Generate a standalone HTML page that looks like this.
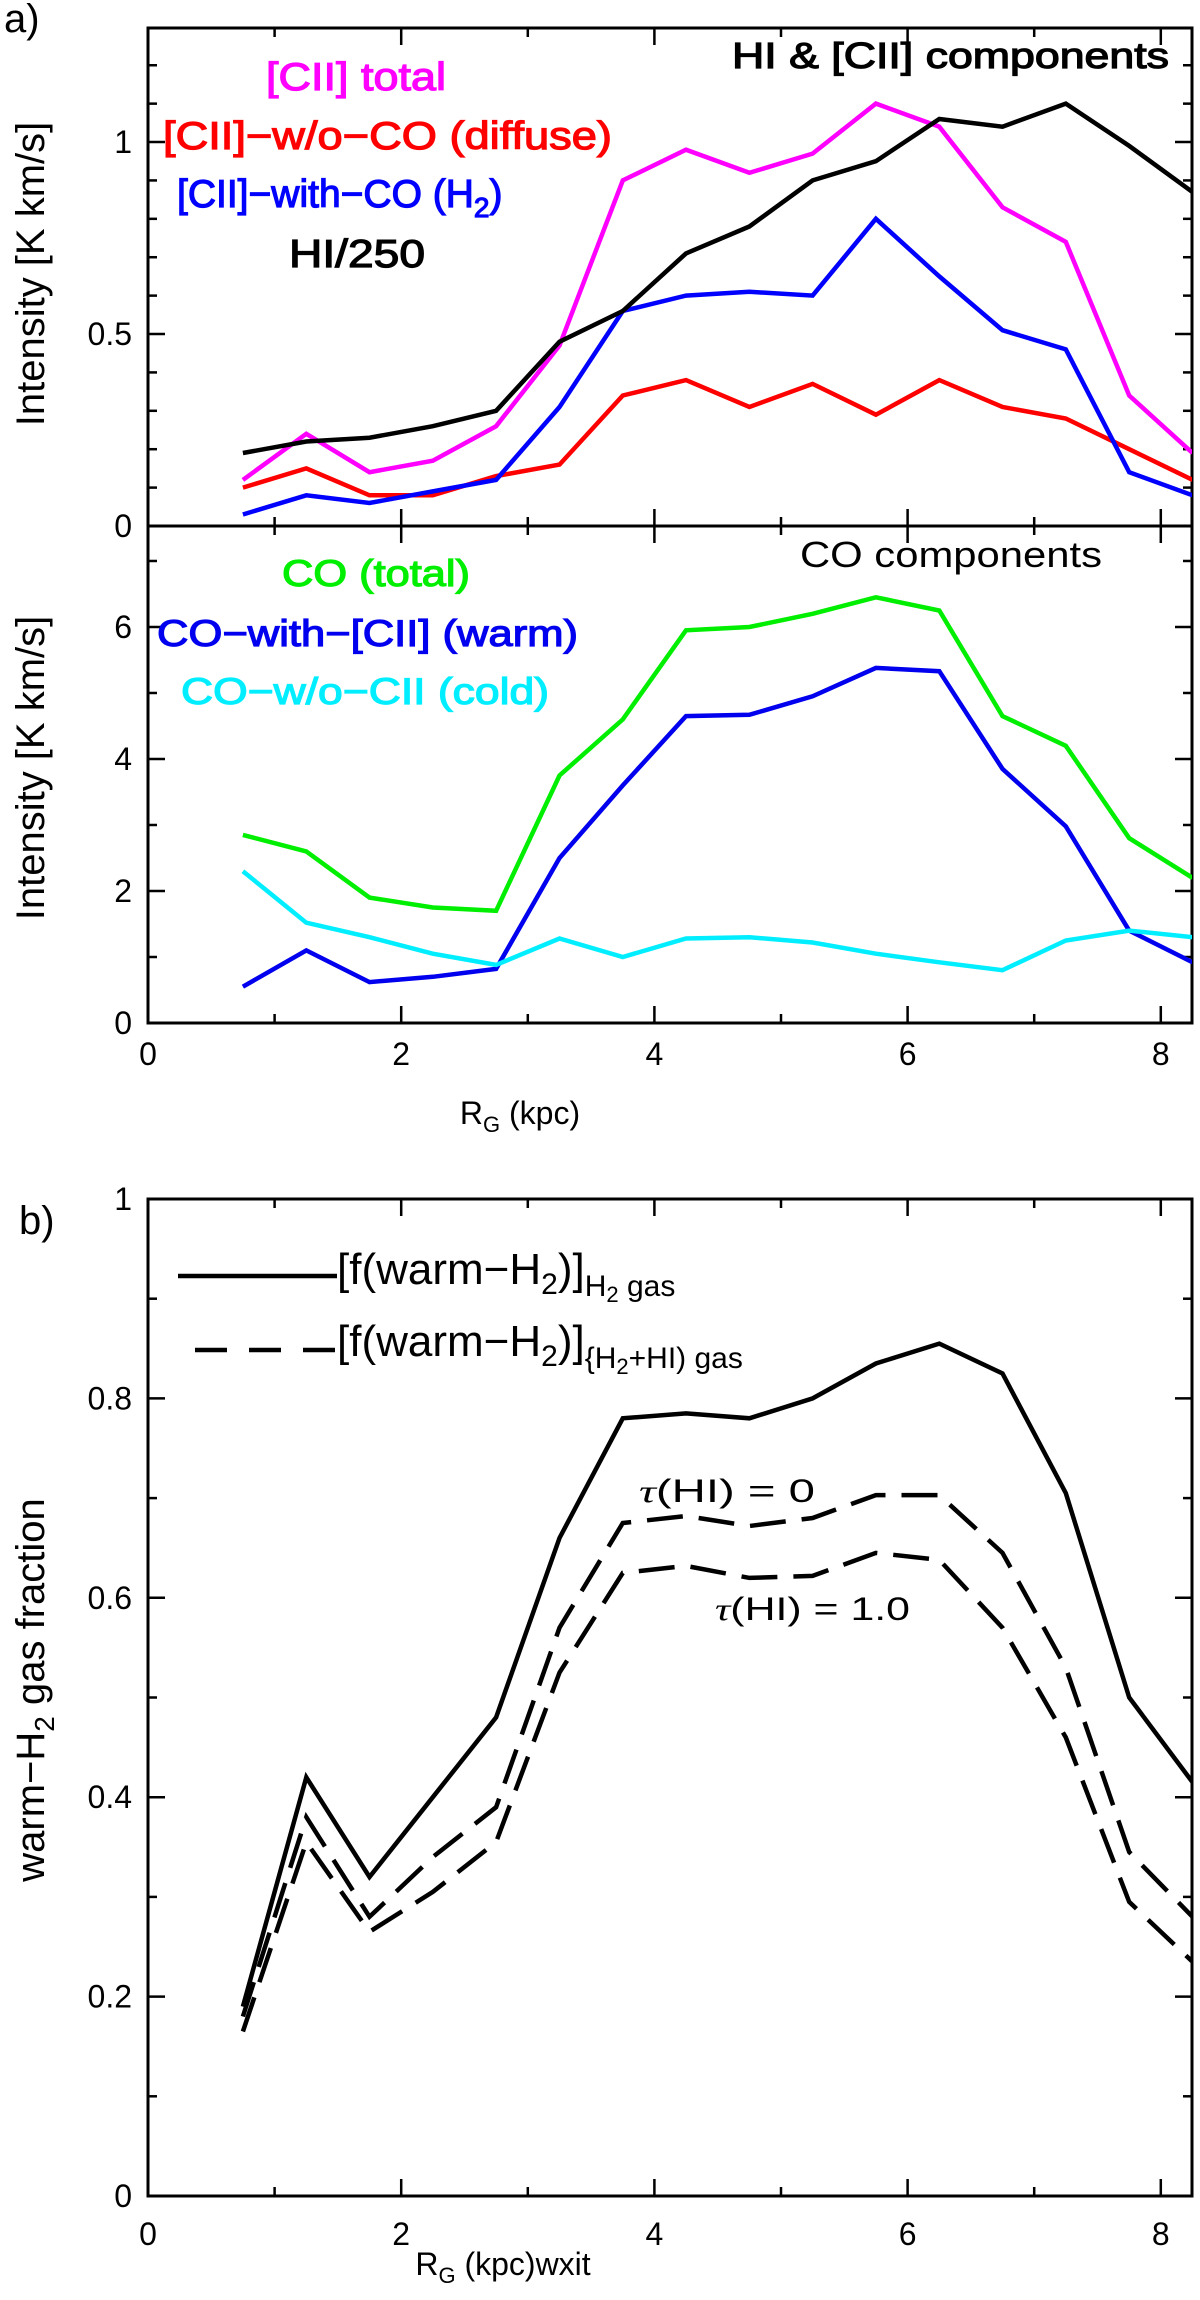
<!DOCTYPE html>
<html><head><meta charset="utf-8"><style>
html,body{margin:0;padding:0;background:#fff;}
svg{display:block;font-family:"Liberation Sans","DejaVu Sans",sans-serif;}
</style></head><body>
<svg id="chart" width="1200" height="2300" viewBox="0 0 1200 2300" xmlns="http://www.w3.org/2000/svg">
<defs>
<clipPath id="clipA"><rect x="148" y="28" width="1044" height="498"/></clipPath>
<clipPath id="clipB"><rect x="148" y="526" width="1044" height="497"/></clipPath>
<clipPath id="clipC"><rect x="148" y="1199" width="1044" height="997"/></clipPath>
</defs>
<g id="root"></g>
</svg>
<script>
const rg = [0.75,1.25,1.75,2.25,2.75,3.25,3.75,4.25,4.75,5.25,5.75,6.25,6.75,7.25,7.75,8.25];
const ciiTotal = [0.12,0.24,0.14,0.17,0.26,0.47,0.90,0.98,0.92,0.97,1.10,1.04,0.83,0.74,0.34,0.19];
const ciiDiffuse = [0.10,0.15,0.08,0.08,0.13,0.16,0.34,0.38,0.31,0.37,0.29,0.38,0.31,0.28,0.20,0.12];
const ciiH2 = [0.03,0.08,0.06,0.09,0.12,0.31,0.56,0.60,0.61,0.60,0.80,0.65,0.51,0.46,0.14,0.08];
const hi250 = [0.19,0.22,0.23,0.26,0.30,0.48,0.56,0.71,0.78,0.90,0.95,1.06,1.04,1.10,0.99,0.87];
const coTotal = [2.85,2.6,1.9,1.75,1.7,3.75,4.6,5.95,6.0,6.2,6.45,6.25,4.65,4.2,2.8,2.2];
const coWarm = [0.55,1.1,0.62,0.7,0.82,2.5,3.6,4.65,4.67,4.95,5.38,5.33,3.85,2.98,1.4,0.92];
const coCold = [2.3,1.52,1.3,1.05,0.88,1.28,1.0,1.28,1.3,1.22,1.05,0.92,0.8,1.25,1.4,1.3];
const fracH2 = [0.19,0.42,0.32,0.40,0.48,0.66,0.78,0.785,0.78,0.80,0.835,0.855,0.825,0.705,0.50,0.415];
const fracTau0 = [0.18,0.38,0.28,0.34,0.39,0.57,0.675,0.682,0.672,0.68,0.703,0.703,0.645,0.53,0.345,0.28];
const fracTau1 = [0.165,0.355,0.265,0.305,0.355,0.525,0.625,0.632,0.62,0.622,0.645,0.638,0.57,0.46,0.295,0.235];
const xTickLabels = ["0","2","4","6","8"];
const yTicksA = ["0","0.5","1"];
const yTicksB = ["0","2","4","6"];
const yTicksC = ["0","0.2","0.4","0.6","0.8","1"];

const NS="http://www.w3.org/2000/svg";
const root=document.getElementById('root');
function el(tag,attrs,parent){const e=document.createElementNS(NS,tag);for(const k in attrs)e.setAttribute(k,attrs[k]);(parent||root).appendChild(e);return e;}
const X0=148,X1=1192,XK=126.6;
const sx=v=>X0+v*XK;
const panels={
 A:{top:28,bot:526,min:0,max:1.297,clip:'clipA'},
 B:{top:526,bot:1023,min:0,max:7.53,clip:'clipB'},
 C:{top:1199,bot:2196,min:0,max:1,clip:'clipC'}
};
function sy(p,v){const P=panels[p];return P.bot-(v-P.min)/(P.max-P.min)*(P.bot-P.top);}

function frame(p,name,majorY,minorStep,ticks){
  const P=panels[p];
  const g=el('g',{});
  
  
  const r=el('rect',{x:X0,y:P.top,width:X1-X0,height:P.bot-P.top,fill:'none',stroke:'#000','stroke-width':3},g);
  
  
  for(let k=1;k<=8;k++){const x=sx(k);const L=k%2==0?17:9;
    el('line',{x1:x,x2:x,y1:P.bot,y2:P.bot-L,stroke:'#000','stroke-width':2.5},g);
    el('line',{x1:x,x2:x,y1:P.top,y2:P.top+L,stroke:'#000','stroke-width':2.5},g);}
  for(let v=P.min;v<=P.max+1e-9;v+=minorStep){const y=sy(p,v);
    const isMaj=Math.abs(v/majorY-Math.round(v/majorY))<1e-6;const L=isMaj?17:9;
    el('line',{x1:X0,x2:X0+L,y1:y,y2:y,stroke:'#000','stroke-width':2.5},g);
    el('line',{x1:X1,x2:X1-L,y1:y,y2:y,stroke:'#000','stroke-width':2.5},g);}
  ticks.forEach(t=>{const v=parseFloat(t);const y=sy(p,v);
    const tx=el('text',{x:132,y:y+11,'font-size':32,'text-anchor':'end'},g);tx.textContent=t;
    
    });
}
function xlabels(p,name,base){
  xTickLabels.forEach(t=>{const tx=el('text',{x:sx(parseFloat(t)),y:base,'font-size':32,'text-anchor':'middle'});tx.textContent=t;
    
    });
}
function series(p,vals,color,name,dash){
  const pts=rg.map((r,i)=>sx(r).toFixed(1)+','+sy(p,vals[i]).toFixed(1)).join(' ');
  const a={points:pts,fill:'none',stroke:color,'stroke-width':4.5,'stroke-linejoin':'miter','clip-path':'url(#'+panels[p].clip+')'};
  if(dash)a['stroke-dasharray']=dash;
  const pl=el('polyline',a);
  
  
}
function label(txt,x,y,size,color,name,len,anchor,extra){
  const a={x:x,y:y,'font-size':size,fill:color};
  if(len){a.textLength=len;a.lengthAdjust='spacingAndGlyphs';}
  if(anchor)a['text-anchor']=anchor;
  if(extra)for(const k in extra)a[k]=extra[k];
  const t=el('text',a);t.innerHTML=txt;
  
  
  return t;
}

frame('A','panel-a-top',0.5,0.1,yTicksA);
frame('B','panel-a-bottom',2,1,yTicksB);
frame('C','panel-b',0.2,0.1,yTicksC);
xlabels('B','panel-a',1065);
xlabels('C','panel-b',2245);

series('A',ciiTotal,'#ff00ff','line-cii-total');
series('A',ciiDiffuse,'#ff0000','line-cii-diffuse');
series('A',ciiH2,'#0000ff','line-cii-h2');
series('A',hi250,'#000000','line-hi-250');
series('B',coTotal,'#00ee00','line-co-total');
series('B',coWarm,'#0000ee','line-co-warm');
series('B',coCold,'#00eeff','line-co-cold');
series('C',fracH2,'#000','line-frac-h2');
series('C',fracTau0,'#000','line-frac-tau0','36,16');
series('C',fracTau1,'#000','line-frac-tau1','36,16');

function sl(t,c){t.setAttribute('stroke',c);t.setAttribute('stroke-width','1.2');return t;}

label('a)',4,32,40,'#000','panel-a-label');
label('b)',19,1234,40,'#000','panel-b-label');
label('Intensity [K km/s]',0,0,40,'#000','panel-a-top-y-title',null,'middle',{transform:'translate(44,274) rotate(-90)'});
label('Intensity [K km/s]',0,0,40,'#000','panel-a-bottom-y-title',null,'middle',{transform:'translate(44,768) rotate(-90)'});
label('warm−H<tspan dy="10" font-size="28">2</tspan><tspan dy="-10"> gas fraction</tspan>',0,0,40,'#000','panel-b-y-title',null,'middle',{transform:'translate(44,1690) rotate(-90)'});
label('R<tspan dy="8" font-size="22">G</tspan><tspan dy="-8"> (kpc)</tspan>',520,1124,32,'#000','panel-a-x-title',null,'middle');
label('R<tspan dy="8" font-size="22">G</tspan><tspan dy="-8"> (kpc)wxit</tspan>',503,2275,32,'#000','panel-b-x-title',null,'middle');

sl(label('[CII] total',266,90,39,'#ff00ff','legend-cii-total',180),'#ff00ff');
sl(label('[CII]−w/o−CO (diffuse)',163,149,39,'#ff0000','legend-cii-diffuse',449),'#ff0000');
sl(label('[CII]−with−CO (H<tspan dy="10" font-size="28">2</tspan><tspan dy="-10">)</tspan>',177,207,39,'#0000ff','legend-cii-h2'),'#0000ff');
sl(label('HI/250',289,267,39,'#000','legend-hi',136),'#000');
sl(label('HI &amp; [CII] components',732,68,36,'#000','panel-a-top-title',437),'#000');
label('CO components',800,567,36,'#000','panel-a-bottom-title',302);
sl(label('CO (total)',282,586,37,'#00ee00','legend-co-total',188),'#00ee00');
sl(label('CO−with−[CII] (warm)',157,646,37,'#0000ee','legend-co-warm',421),'#0000ee');
sl(label('CO−w/o−CII (cold)',181,704,37,'#00eeff','legend-co-cold',368),'#00eeff');

const l1=el('line',{x1:178,x2:337,y1:1276,y2:1276,stroke:'#000','stroke-width':4.5});


const l2=el('line',{x1:195,x2:337,y1:1350,y2:1350,stroke:'#000','stroke-width':4.5,'stroke-dasharray':'32,22'});


label('[f(warm−H<tspan dy="10" font-size="30">2</tspan><tspan dy="-10">)]</tspan><tspan dy="12" font-size="30">H</tspan><tspan dy="6" font-size="22">2</tspan><tspan dy="-6" font-size="30"> gas</tspan>',337,1284,44,'#000','legend-frac-h2');
label('[f(warm−H<tspan dy="10" font-size="30">2</tspan><tspan dy="-10">)]</tspan><tspan dy="12" font-size="30">{H</tspan><tspan dy="6" font-size="22">2</tspan><tspan dy="-6" font-size="30">+HI) gas</tspan>',337,1356,44,'#000','legend-frac-h2-hi');
label('<tspan font-style="italic" font-family="Liberation Serif, serif">τ</tspan>(HI) = 0',639,1502,32,'#000','annotation-tau-0',176);
label('<tspan font-style="italic" font-family="Liberation Serif, serif">τ</tspan>(HI) = 1.0',715,1620,32,'#000','annotation-tau-1',195);
</script>
</body></html>
